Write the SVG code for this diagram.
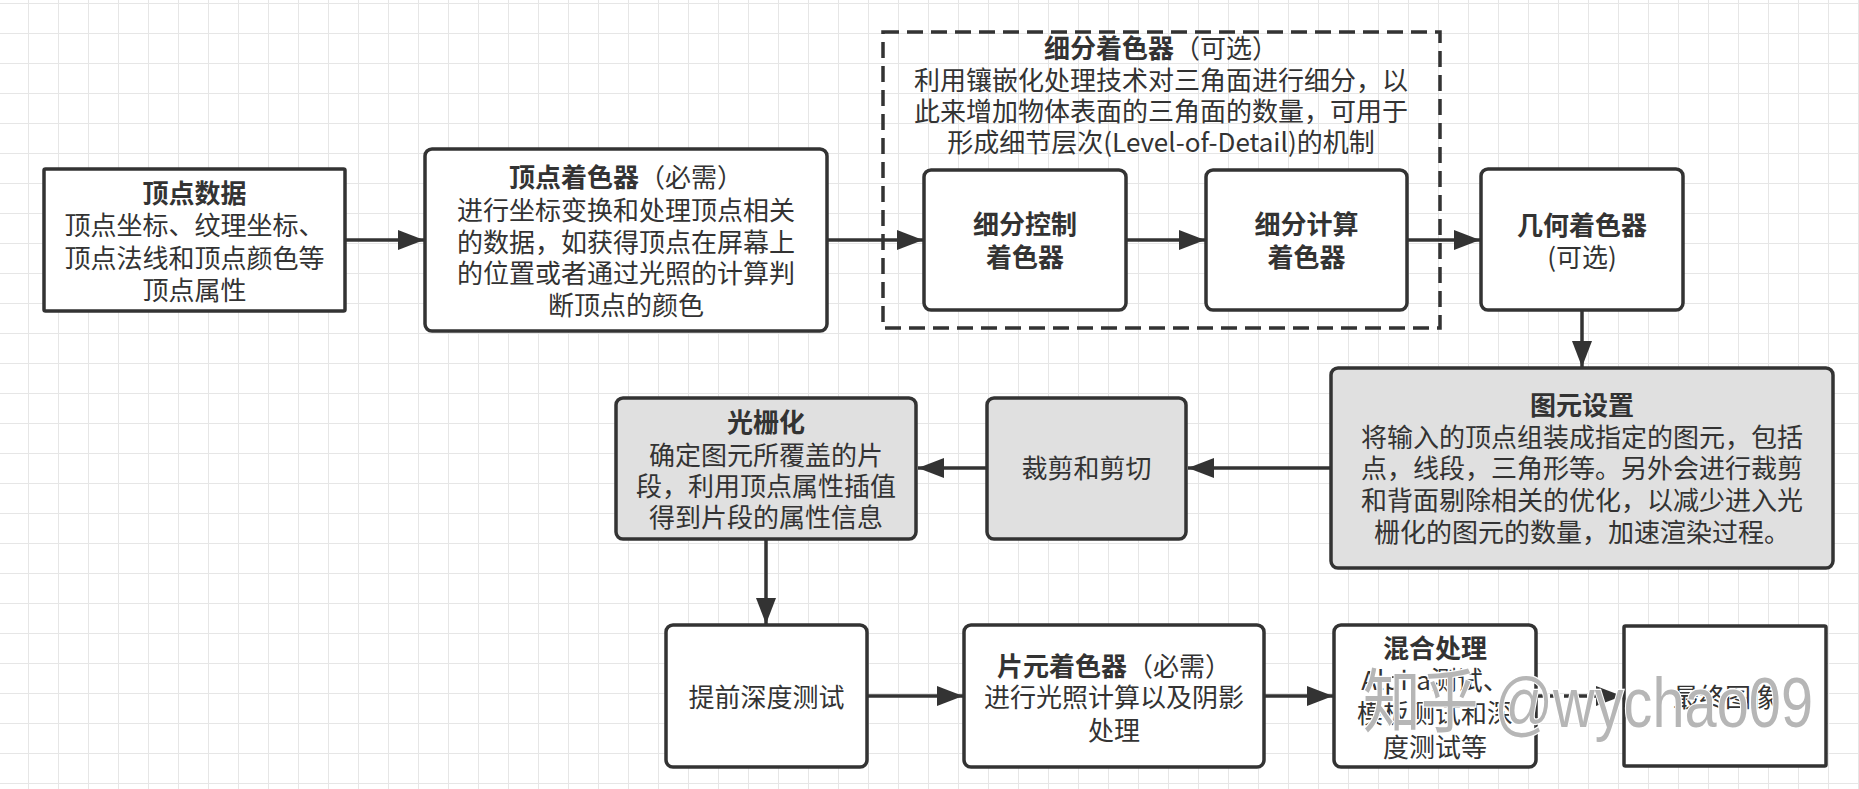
<svg xmlns="http://www.w3.org/2000/svg" width="1859" height="789" viewBox="0 0 1859 789">
<defs>
<pattern id="grid" width="30" height="30" patternUnits="userSpaceOnUse" x="28" y="3">
<path d="M0 0.5 H30 M0.5 0 V30" stroke="#e6e6e6" stroke-width="1" fill="none"/>
</pattern>
<marker id="arr" markerUnits="userSpaceOnUse" markerWidth="26" markerHeight="20" refX="26" refY="10" orient="auto">
<path d="M0,0 L26,10 L0,20 z" fill="#333"/>
</marker>
<style>
.box{fill:#fff;stroke:#333;stroke-width:3.5}
.gray{fill:#e0e0e0}
.t{font-family:"Noto Sans CJK SC","Microsoft YaHei",sans-serif;font-size:26px;fill:#333;text-anchor:middle}
.b{font-weight:bold}
.c{fill:none;stroke:#333;stroke-width:3.5;marker-end:url(#arr)}
.wm{font-family:"Liberation Sans","Noto Sans CJK SC",sans-serif;font-size:70px;fill:#b6b6b6;stroke:#fff;stroke-width:2.5;paint-order:stroke}
</style>
</defs>
<rect width="1859" height="789" fill="#fff"/>
<rect width="1859" height="789" fill="url(#grid)"/>

<g id="tess-group">
<rect x="883" y="32" width="557" height="296" fill="none" stroke="#333" stroke-width="3.5" stroke-dasharray="16 8"/>
<text class="t" x="1161" y="58"><tspan class="b">细分着色器</tspan>（可选）</text>
<text class="t" x="1161" y="90">利用镶嵌化处理技术对三角面进行细分，以</text>
<text class="t" x="1161" y="121">此来增加物体表面的三角面的数量，可用于</text>
<text class="t" x="1161" y="152">形成细节层次(Level-of-Detail)的机制</text>
</g>

<g id="vertex-data">
<rect class="box" x="44" y="169" width="301" height="142" rx="1.5"/>
<text class="t b" x="194.5" y="203">顶点数据</text>
<text class="t" x="194.5" y="235">顶点坐标、纹理坐标、</text>
<text class="t" x="194.5" y="268">顶点法线和顶点颜色等</text>
<text class="t" x="194.5" y="300">顶点属性</text>
</g>

<g id="vertex-shader">
<rect class="box" x="425" y="149" width="402" height="182" rx="7"/>
<text class="t" x="626" y="187"><tspan class="b">顶点着色器</tspan>（必需）</text>
<text class="t" x="626" y="220">进行坐标变换和处理顶点相关</text>
<text class="t" x="626" y="252">的数据，如获得顶点在屏幕上</text>
<text class="t" x="626" y="283">的位置或者通过光照的计算判</text>
<text class="t" x="626" y="315">断顶点的颜色</text>
</g>

<g id="tess-control">
<rect class="box" x="924" y="170" width="202" height="140" rx="7"/>
<text class="t b" x="1025" y="234">细分控制</text>
<text class="t b" x="1025" y="267">着色器</text>
</g>

<g id="tess-eval">
<rect class="box" x="1206" y="170" width="201" height="140" rx="7"/>
<text class="t b" x="1306.5" y="234">细分计算</text>
<text class="t b" x="1306.5" y="267">着色器</text>
</g>

<g id="geometry-shader">
<rect class="box" x="1481" y="169" width="202" height="141" rx="7"/>
<text class="t b" x="1582" y="235">几何着色器</text>
<text class="t" x="1582" y="267">(可选)</text>
</g>

<g id="primitive-setup">
<rect class="box gray" x="1331" y="368" width="502" height="200" rx="7"/>
<text class="t b" x="1582" y="415">图元设置</text>
<text class="t" x="1582" y="447">将输入的顶点组装成指定的图元，包括</text>
<text class="t" x="1582" y="478">点，线段，三角形等。另外会进行裁剪</text>
<text class="t" x="1582" y="510">和背面剔除相关的优化，以减少进入光</text>
<text class="t" x="1582" y="542">栅化的图元的数量，加速渲染过程。</text>
</g>

<g id="clipping">
<rect class="box gray" x="987" y="398" width="199" height="141" rx="7"/>
<text class="t" x="1086.5" y="478">裁剪和剪切</text>
</g>

<g id="rasterization">
<rect class="box gray" x="616" y="398" width="300" height="141" rx="7"/>
<text class="t b" x="766" y="432">光栅化</text>
<text class="t" x="766" y="465">确定图元所覆盖的片</text>
<text class="t" x="766" y="496">段，利用顶点属性插值</text>
<text class="t" x="766" y="527">得到片段的属性信息</text>
</g>

<g id="early-z">
<rect class="box" x="666" y="625" width="201" height="142" rx="7"/>
<text class="t" x="766.5" y="707">提前深度测试</text>
</g>

<g id="fragment-shader">
<rect class="box" x="964" y="625" width="300" height="142" rx="7"/>
<text class="t" x="1114" y="676"><tspan class="b">片元着色器</tspan>（必需）</text>
<text class="t" x="1114" y="707">进行光照计算以及阴影</text>
<text class="t" x="1114" y="740">处理</text>
</g>

<g id="blending">
<rect class="box" x="1334" y="625" width="202" height="142" rx="7"/>
<text class="t b" x="1435" y="658">混合处理</text>
<text class="t" x="1435" y="690">Alpha测试、</text>
<text class="t" x="1435" y="723">模板测试和深</text>
<text class="t" x="1435" y="757">度测试等</text>
</g>

<g id="final-image">
<rect class="box" x="1624" y="626" width="202" height="140" rx="1.5"/>
<text class="t" x="1725" y="707">最终图像</text>
</g>

<g id="connectors">
<line class="c" x1="345" y1="240" x2="424" y2="240"/>
<line class="c" x1="827" y1="240" x2="923" y2="240"/>
<line class="c" x1="1126" y1="240" x2="1205" y2="240"/>
<line class="c" x1="1407" y1="240" x2="1480" y2="240"/>
<line class="c" x1="1582" y1="310" x2="1582" y2="367"/>
<line class="c" x1="1331" y1="468" x2="1188" y2="468"/>
<line class="c" x1="987" y1="468" x2="918" y2="468"/>
<line class="c" x1="766" y1="539" x2="766" y2="624"/>
<line class="c" x1="867" y1="696" x2="963" y2="696"/>
<line class="c" x1="1264" y1="696" x2="1333" y2="696"/>
<line class="c" x1="1536" y1="696" x2="1622" y2="696" stroke-dasharray="9 5"/>
</g>

<text class="wm" x="1363" y="727" textLength="450" lengthAdjust="spacingAndGlyphs">知乎 @wychao09</text>
</svg>
